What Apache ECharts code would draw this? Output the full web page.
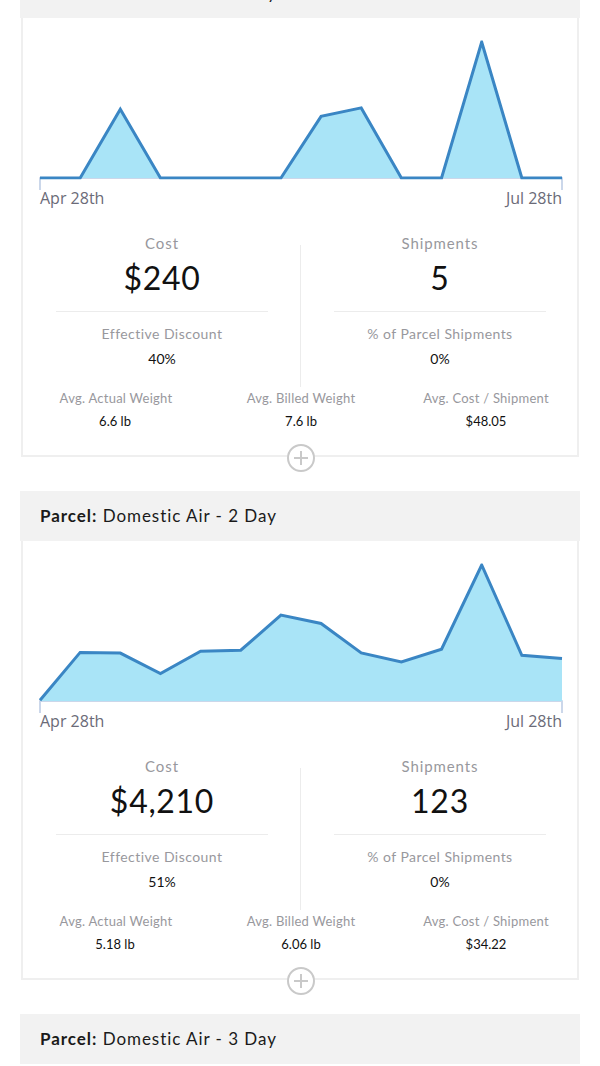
<!DOCTYPE html>
<html>
<head>
<meta charset="utf-8">
<script src="https://cdn.jsdelivr.net/npm/echarts@6/dist/echarts.min.js"></script>
<style>
  html, body { margin: 0; padding: 0; background: #ffffff; width: 600px; height: 1066px; overflow: hidden; position: relative; font-family: Lato, "Open Sans", sans-serif; }
  .hdr { position: absolute; left: 20px; width: 560px; height: 50px; background: #f2f2f2; }
  .hdr span.t { position: absolute; left: 20px; top: 0; line-height: 50px; font-size: 17px; letter-spacing: 0.95px; color: #1a1a1a; white-space: nowrap; }
  .hdr b { font-weight: 700; }
  .card { position: absolute; left: 21px; width: 554px; height: 437px; border: 2px solid #efefef; border-top: none; background: #fff; }
  .c { position: absolute; transform: translate(-50%, -50%); white-space: nowrap; text-align: center; }
  .lbl { color: #98989d; font-size: 15px; letter-spacing: 0.9px; }
  .big { color: #111; font-size: 32px; letter-spacing: 0.7px; }
  .lbl2 { color: #98989d; font-size: 14px; letter-spacing: 0.45px; }
  .val { color: #111; font-size: 14px; }
  .lbl3 { color: #98989d; font-size: 13px; letter-spacing: 0.25px; }
  .val3 { color: #111; font-size: 13px; }
  .hl { position: absolute; height: 1px; background: #ececec; }
  .vl { position: absolute; width: 1px; background: #ececec; }
  .plus { position: absolute; width: 24px; height: 24px; border: 2px solid #c9c9c9; border-radius: 50%; background: #fff; transform: translate(-50%, -50%); }
  .plus:before { content: ""; position: absolute; left: 5px; top: 11px; width: 14px; height: 2px; background: #c9c9c9; }
  .plus:after { content: ""; position: absolute; left: 11px; top: 5px; width: 2px; height: 14px; background: #c9c9c9; }
  .chart { position: absolute; left: 0; width: 600px; height: 200px; }
</style>
</head>
<body>
<script>
// ---- data ----
const categories = ['Apr 28th','May 5th','May 12th','May 19th','May 26th','Jun 2nd','Jun 9th','Jun 16th','Jun 23rd','Jun 30th','Jul 7th','Jul 14th','Jul 21st','Jul 28th'];
const costDomesticAir1Day = [0, 0, 49, 0, 0, 0, 0, 44, 50, 0, 0, 97, 0, 0];
const costDomesticAir2Day = [4, 272, 268, 154, 279, 284, 481, 434, 269, 219, 290, 761, 256, 238];
const sectionTitles = ['Domestic Air - 1 Day', 'Domestic Air - 2 Day', 'Domestic Air - 3 Day'];
const statCost = ['$240', '$4,210'];
const statShipments = ['5', '123'];
const statDiscount = ['40%', '51%'];
const statParcelShare = ['0%', '0%'];
const statActualWeight = ['6.6 lb', '5.18 lb'];
const statBilledWeight = ['7.6 lb', '6.06 lb'];
const statCostPerShipment = ['$48.05', '$34.22'];
const chartSeries = [costDomesticAir1Day, costDomesticAir2Day];

// ---- layout ----
const PERIOD = 523;
function el(tag, cls, style, html) {
  const e = document.createElement(tag);
  if (cls) e.className = cls;
  if (style) Object.assign(e.style, style);
  if (html !== undefined) e.innerHTML = html;
  document.body.appendChild(e);
  return e;
}

for (let k = 0; k < sectionTitles.length; k++) {
  const o = PERIOD * k;
  const h = el('div', 'hdr', { top: (o - 32) + 'px' });
  const t = document.createElement('span');
  t.className = 't';
  t.innerHTML = '<b>Parcel:</b> ' + sectionTitles[k];
  h.appendChild(t);
  if (k >= chartSeries.length) continue;

  el('div', 'card', { top: (o + 18) + 'px' });
  const cdiv = el('div', 'chart', { top: (o + 18) + 'px' });

  el('div', 'c lbl', { left: '162px', top: (o + 243) + 'px' }, 'Cost');
  el('div', 'c big', { left: '162px', top: (o + 277) + 'px' }, statCost[k]);
  el('div', 'c lbl', { left: '440px', top: (o + 243) + 'px' }, 'Shipments');
  el('div', 'c big', { left: '440px', top: (o + 277) + 'px' }, statShipments[k]);
  el('div', 'hl', { left: '56px', width: '212px', top: (o + 311) + 'px' });
  el('div', 'hl', { left: '334px', width: '212px', top: (o + 311) + 'px' });
  el('div', 'vl', { left: '300px', height: '142px', top: (o + 245) + 'px' });
  el('div', 'c lbl2', { left: '162px', top: (o + 333) + 'px' }, 'Effective Discount');
  el('div', 'c val', { left: '162px', top: (o + 358) + 'px' }, statDiscount[k]);
  el('div', 'c lbl2', { left: '440px', top: (o + 333) + 'px' }, '% of Parcel Shipments');
  el('div', 'c val', { left: '440px', top: (o + 358) + 'px' }, statParcelShare[k]);
  el('div', 'c lbl3', { left: '116px', top: (o + 398) + 'px' }, 'Avg. Actual Weight');
  el('div', 'c val3', { left: '115px', top: (o + 421) + 'px' }, statActualWeight[k]);
  el('div', 'c lbl3', { left: '301px', top: (o + 398) + 'px' }, 'Avg. Billed Weight');
  el('div', 'c val3', { left: '301px', top: (o + 421) + 'px' }, statBilledWeight[k]);
  el('div', 'c lbl3', { left: '486px', top: (o + 398) + 'px' }, 'Avg. Cost / Shipment');
  el('div', 'c val3', { left: '486px', top: (o + 421) + 'px' }, statCostPerShipment[k]);
  el('div', 'plus', { left: '301px', top: (o + 458) + 'px' });

  const chart = echarts.init(cdiv, null, { renderer: 'svg' });
  const last = categories.length - 1;
  chart.setOption({
    animation: false,
    grid: { left: 40, right: 38, top: 24, bottom: 40, containLabel: false },
    xAxis: {
      type: 'category',
      data: categories,
      boundaryGap: false,
      axisLine: { show: true, lineStyle: { color: '#cbd7ea', width: 2 } },
      axisTick: { show: true, length: 12, lineStyle: { color: '#cbd7ea', width: 2 },
        interval: function (i) { return i === 0 || i === last; } },
      axisLabel: {
        interval: function (i) { return i === 0 || i === last; },
        alignMinLabel: 'left', alignMaxLabel: 'right',
        color: '#6b6b78', fontFamily: '"Open Sans", sans-serif', fontSize: 16, margin: 12
      },
      splitLine: { show: false }
    },
    yAxis: { type: 'value', min: 0, max: 'dataMax', show: false, splitLine: { show: false } },
    series: [{
      type: 'line',
      data: chartSeries[k],
      symbol: 'none',
      lineStyle: { color: '#3a86c4', width: 3, join: 'miter' },
      areaStyle: { color: '#a9e4f7', opacity: 1 },
      itemStyle: { color: '#3a86c4' }
    }]
  });
}
</script>
</body>
</html>
